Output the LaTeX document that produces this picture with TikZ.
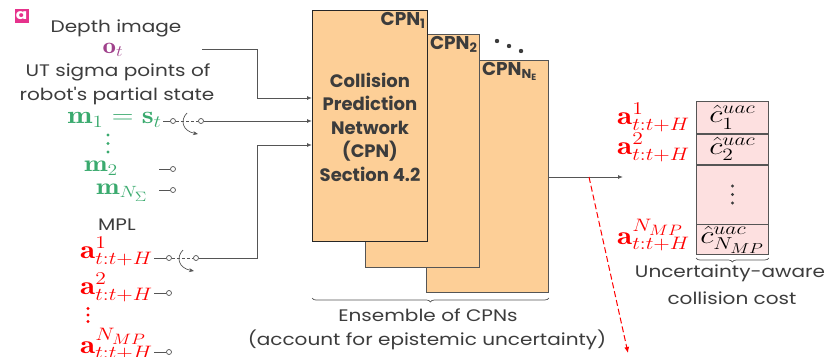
\RequirePackage{fix-cm}
\documentclass[tikz,border=0pt]{standalone}
\usepackage{fontspec}
\usetikzlibrary{arrows.meta,decorations.pathreplacing}
\newfontfamily\gothic[FakeStretch=1.2]{Poppins}
\newfontfamily\gothicbold[BoldFont={* Bold}]{Poppins}
\definecolor{tagpink}{RGB}{230,50,140}
\definecolor{obsviolet}{RGB}{160,66,140}
\definecolor{mgreen}{RGB}{58,170,110}
\definecolor{cpnfill}{RGB}{253,207,151}
\definecolor{costfill}{RGB}{253,224,224}
\definecolor{wiregray}{RGB}{85,85,85}
\definecolor{txtgray}{RGB}{60,60,60}

\tikzset{
  lbl/.style={font=\gothic\fontsize{16.7}{19}\selectfont, text=txtgray, inner sep=0pt},
  cpnlbl/.style={font=\gothicbold\bfseries\fontsize{18.5}{20}\selectfont, text=txtgray, inner sep=2pt},
  cpnbox/.style={draw=wiregray, fill=cpnfill, line width=0.8pt, anchor=north west, inner sep=0pt},
  costcell/.style={draw=wiregray, fill=costfill, line width=0.8pt, anchor=north west,
    minimum width=72pt, inner sep=0pt, font=\fontsize{20.74}{24}\selectfont},
  port/.style={circle, draw=wiregray, fill=white, inner sep=0pt, minimum size=5pt, line width=0.7pt},
  wire/.style={draw=wiregray, line width=0.9pt},
  feed/.style={wire, -{Latex[length=5pt,width=4pt]}},
  flip/.style={wire, line width=0.7pt, -{Stealth[length=5pt,width=4pt]}},
  mathlbl/.style={font=\fontsize{20.74}{24}\selectfont, inner sep=1pt, anchor=base east},
  brace/.style={draw=wiregray, line width=0.7pt, decorate, decoration={brace, mirror, amplitude=4pt}},
}

\begin{document}
\begin{tikzpicture}[x=1pt,y=-1pt]
  \useasboundingbox (0,0) rectangle (829,356);

  % tag and inputs
  \node[fill=tagpink, text=white, font=\gothic\bfseries\fontsize{14}{14}\selectfont,
    minimum size=14pt, inner sep=0pt] (tag) at (21.5,16) {a};
  \node[lbl] (depth) at (116,28) {Depth image};
  \node[mathlbl, anchor=base, text=obsviolet] (obs) at (113,53.5) {\scalebox{1.3}[1.1]{$\mathbf{o}_t$}};
  \node[lbl] (utA) at (118,72) {UT sigma points of};
  \node[lbl] (utB) at (117,96) {robot's partial state};

  \node[mathlbl, text=mgreen] (m1) at (163,123.5) {\scalebox{1.45}[1.2]{$\mathbf{m}_1 = \mathbf{s}_t$}};
  \node[mathlbl, text=mgreen] (m2) at (119,171.5) {\scalebox{1.36}[1.13]{$\mathbf{m}_2$}};
  \node[mathlbl, text=mgreen] (mN) at (149,194) {\scalebox{1.36}[1.13]{$\mathbf{m}_{N_\Sigma}$}};
  \foreach \y in {135,143.5,152} \fill[mgreen] (108,\y) circle (1.7pt);

  \node[lbl] (mpl) at (117,225) {MPL};
  \node[mathlbl, text=red] (a1) at (154,258) {\scalebox{1.5}[1.25]{$\mathbf{a}^1_{t:t+H}$}};
  \node[mathlbl, text=red] (a2) at (154,294) {\scalebox{1.5}[1.25]{$\mathbf{a}^2_{t:t+H}$}};
  \node[mathlbl, text=red] (aN) at (154,353) {\scalebox{1.5}[1.25]{$\mathbf{a}^{N_{MP}}_{t:t+H}$}};
  \foreach \y in {308.5,315,321.5} \fill[red] (88,\y) circle (1.6pt);

  % ports and switches
  \node[port] (s1a) at (173,121) {};
  \node[port] (s1b) at (201,121) {};
  \node[port] (p2) at (173,169) {};
  \node[port] (pN) at (173,190) {};
  \node[port] (s2a) at (169,258) {};
  \node[port] (s2b) at (196,258) {};
  \node[port] (q2) at (169,293) {};
  \node[port] (qN) at (169,352) {};

  % ensemble of CPNs
  \node[cpnbox, minimum width=122pt, minimum height=232pt] (cpn3) at (426,60) {};
  \node[cpnbox, minimum width=114pt, minimum height=233pt] (cpn2) at (365,34) {};
  \node[cpnbox, draw=black!85, minimum width=115pt, minimum height=231pt] (cpn1) at (312,10) {};
  \node[cpnlbl, anchor=north east] (cpn1lbl) at (cpn1.north east) {CPN\textsubscript{1}};
  \node[cpnlbl, anchor=north west] (cpn2lbl) at (cpn2.north east -| cpn1.east) {CPN\textsubscript{2}};
  \node[cpnlbl, anchor=north west] (cpn3lbl) at (cpn3.north east -| cpn2.east) {CPN\textsubscript{N\textsubscript{E}}};
  \node[cpnlbl, align=center, font=\gothicbold\bfseries\fontsize{18}{23.5}\selectfont] (cpntxt) at (370,127)
    {Collision\\Prediction\\Network\\(CPN)\\Section 4.2};
  \fill[txtgray] (497,41) circle (2.2pt) (509,46) circle (2.2pt) (521,51) circle (2.2pt);

  \coordinate (obsout) at (202,49);
  \coordinate (inA) at (312,98);
  \coordinate (inC) at (312,145);

  % wires
  \draw[feed] (obsout) -| ([xshift=-55pt]inA) -- (inA);
  \draw[wire] (m1.east |- s1a) -- (s1a);
  \draw[wire, densely dashed, line width=0.6pt] (s1a) -- (s1b);
  \draw[flip] ([shift={(14,-8)}]s1a.center) .. controls ([shift={(7,-1)}]s1a.center)
    and ([shift={(9,10)}]s1a.center) .. ([shift={(25,13)}]s1a.center);
  \draw[feed] (s1b) -- (s1b -| cpn1.west);
  \draw[wire] ([xshift=-11pt]p2.west) -- (p2);
  \draw[wire] ([xshift=-11pt]pN.west) -- (pN);

  \draw[wire] (a1.east |- s2a) -- (s2a);
  \draw[wire, densely dashed, line width=0.6pt] (s2a) -- (s2b);
  \draw[flip] ([shift={(14,-8)}]s2a.center) .. controls ([shift={(7,-1)}]s2a.center)
    and ([shift={(9,10)}]s2a.center) .. ([shift={(25,13)}]s2a.center);
  \draw[feed] (s2b) -| ([xshift=-55pt]inC) -- (inC);
  \draw[wire] (a2.east |- q2) -- (q2);
  \draw[wire] (aN.east |- qN) -- (qN);

  % cost table
  \node[costcell, minimum height=32pt] (c1) at (696,101) {\scalebox{1.5}[1.2]{$\hat{c}^{uac}_1$}};
  \node[costcell, minimum height=30pt] (c2) at (c1.south west) {\scalebox{1.5}[1.2]{$\hat{c}^{uac}_2$}};
  \node[costcell, minimum height=59pt] (cdots) at (c2.south west) {};
  \node[costcell, minimum height=30pt] (cN) at (cdots.south west) {\scalebox{1.5}[1.2]{$\hat{c}^{uac}_{N_{MP}}$}};
  \foreach \y in {-8.5,0,8.5} \fill[txtgray] ([yshift=\y pt]cdots.center) circle (1.6pt);
  \node[mathlbl, text=red] (r1) at (691,124) {\scalebox{1.5}[1.25]{$\mathbf{a}^1_{t:t+H}$}};
  \node[mathlbl, text=red] (r2) at (691,154) {\scalebox{1.5}[1.25]{$\mathbf{a}^2_{t:t+H}$}};
  \node[mathlbl, text=red] (rN) at (691,244) {\scalebox{1.5}[1.25]{$\mathbf{a}^{N_{MP}}_{t:t+H}$}};

  \coordinate (costin) at (623,177);
  \coordinate (split) at (589,177);
  \coordinate (away) at (628,353);
  \draw[feed] (cpn3.east |- costin) -- (costin);
  \draw[red, line width=1pt, dash pattern=on 6pt off 3pt, -{Latex[length=6pt,width=5pt]}] (split) -- (away);

  % braces and captions
  \draw[brace] (cN.south west |- 0,258) -- (cN.south east |- 0,258);
  \node[lbl] (costA) at (730,273) {Uncertainty-aware};
  \node[lbl] (costB) at (732,298) {collision cost};
  \draw[brace] (cpn1.west |- 0,298) -- (cpn3.east |- 0,298);
  \node[lbl] (ensA) at (428,315) {Ensemble of CPNs};
  \node[lbl] (ensB) at (427,340) {(account for epistemic uncertainty)};
\end{tikzpicture}
\end{document}
